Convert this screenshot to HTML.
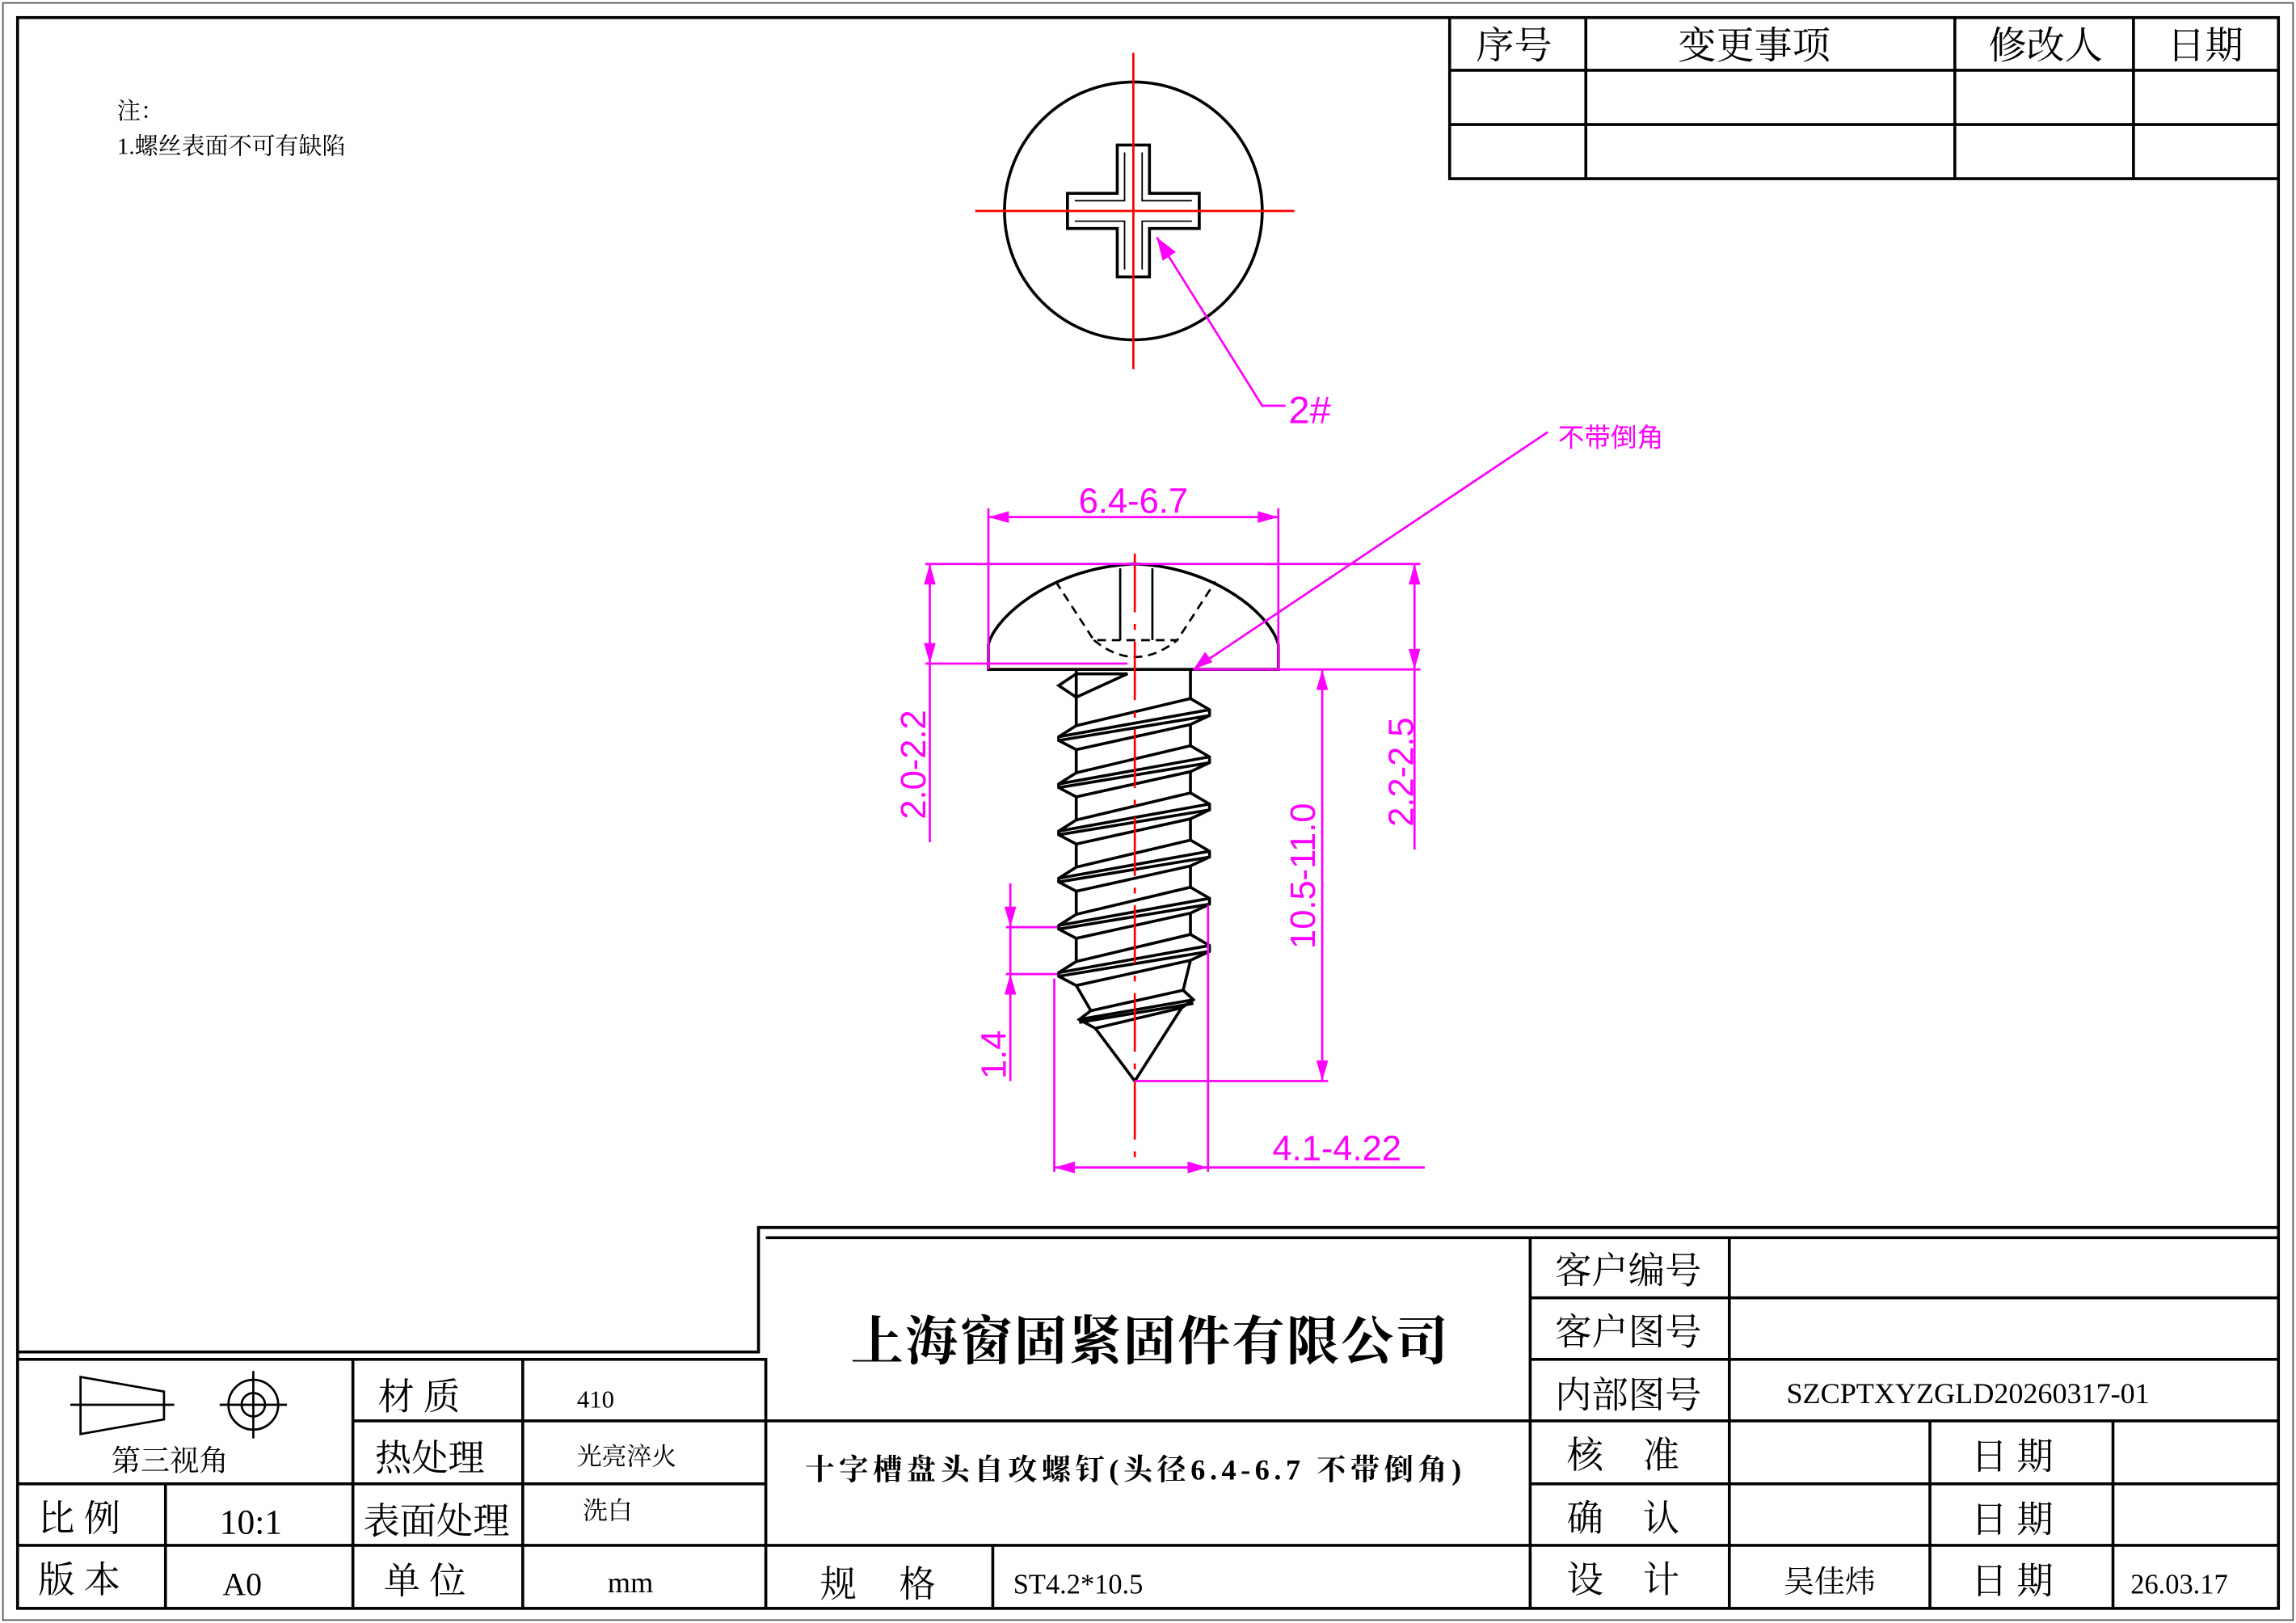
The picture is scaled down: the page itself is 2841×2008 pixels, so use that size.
<!DOCTYPE html>
<html><head><meta charset="utf-8"><style>
html,body{margin:0;padding:0;background:#fff;}
svg{display:block;}
.t{font-family:"Liberation Serif","Noto Serif CJK SC",serif;fill:#000;}
.d{font-family:"Liberation Sans",sans-serif;fill:#f0f;}
</style></head><body>
<svg id="s" width="2841" height="2008" viewBox="0 0 1568 1108" preserveAspectRatio="none" xmlns="http://www.w3.org/2000/svg">
<rect x="0" y="0" width="1568" height="1108" fill="#fff"/>
<rect x="2" y="2" width="1564" height="1104" fill="none" stroke="#555" stroke-width="1"/>
<g stroke="#000" fill="none" stroke-width="2">
<rect x="12" y="12" width="1544" height="1086"/>
<path d="M990 12V122H1556M990 48H1556M990 85H1556M1083 12V122M1335 12V122M1457 12V122"/>
<path d="M12 923H518V838H1556M12 928H523V1098M523 845H1556"/>
<path d="M12 1013H523M12 1055H523M241 970H523M241 928V1098M357 928V1098M113 1013V1098"/>
<path d="M523 970H1556M523 1055H1556M678 1055V1098M1045 845V1098M1181 845V1098M1045 886H1556M1045 928H1556M1045 1013H1556M1318 970V1098M1443 970V1098"/>
</g>
<g stroke="#000" fill="none" stroke-width="1.5">
<path d="M55 940L112 950V969L55 979Z"/><path d="M48 959H119"/>
<circle cx="173" cy="959" r="17"/><circle cx="173" cy="959" r="8"/><path d="M150 959H196M173 936V982"/>
</g>
<g class="t">
<text x="1034" y="40" font-size="26" text-anchor="middle">序号</text>
<text x="1198" y="40" font-size="26" text-anchor="middle">变更事项</text>
<text x="1397" y="40" font-size="26" text-anchor="middle">修改人</text>
<text x="1506" y="40" font-size="26" text-anchor="middle">日期</text>
<text x="80" y="81" font-size="16">注：</text>
<text x="80" y="105" font-size="16">1.螺丝表面不可有缺陷</text>
<text x="116" y="1004" font-size="20" text-anchor="middle">第三视角</text>
<text x="258" y="962" font-size="25">材 质</text>
<text x="394" y="961" font-size="17">410</text>
<text x="256" y="1004" font-size="25">热处理</text>
<text x="394" y="1000" font-size="17">光亮淬火</text>
<text x="26" y="1045" font-size="25">比 例</text>
<text x="150" y="1047" font-size="24">10:1</text>
<text x="248" y="1047" font-size="25">表面处理</text>
<text x="398" y="1037" font-size="17">洗白</text>
<text x="26" y="1087" font-size="25">版 本</text>
<text x="152" y="1089" font-size="22">A0</text>
<text x="262" y="1088" font-size="25">单 位</text>
<text x="415" y="1087" font-size="20">mm</text>
<text x="581" y="928" font-size="36" font-weight="bold" textLength="408">上海窗固紧固件有限公司</text>
<text x="550" y="1010" font-size="20" font-weight="bold" textLength="448">十字槽盘头自攻螺钉(头径6.4-6.7 不带倒角)</text>
<text x="560" y="1090" font-size="25">规</text><text x="614" y="1090" font-size="25">格</text>
<text x="692" y="1088" font-size="19">ST4.2*10.5</text>
<text x="1062" y="876" font-size="25">客户编号</text>
<text x="1062" y="918" font-size="25">客户图号</text>
<text x="1062" y="961" font-size="25">内部图号</text>
<text x="1220" y="958" font-size="20" textLength="248">SZCPTXYZGLD20260317-01</text>
<text x="1070" y="1002" font-size="25">核</text><text x="1122" y="1002" font-size="25">准</text>
<text x="1070" y="1045" font-size="25">确</text><text x="1122" y="1045" font-size="25">认</text>
<text x="1070" y="1087" font-size="25">设</text><text x="1122" y="1087" font-size="25">计</text>
<text x="1346" y="1003" font-size="25">日 期</text>
<text x="1346" y="1046" font-size="25">日 期</text>
<text x="1346" y="1088" font-size="25">日 期</text>
<text x="1218" y="1087" font-size="21">吴佳炜</text>
<text x="1455" y="1088" font-size="19">26.03.17</text>
</g>
<circle cx="774" cy="144" r="88" fill="none" stroke="#000" stroke-width="2"/>
<path d="M763 99H785V132H819V156H785V189H763V156H729V132H763Z" fill="none" stroke="#000" stroke-width="2"/>
<path d="M768 104V137H734M780 104V137H814M768 184V151H734M780 184V151H814" fill="none" stroke="#000" stroke-width="1"/>
<path d="M774 36V252M666 144H884" stroke="#f00" stroke-width="1.5"/>
<path d="M790 162L862 277H878" stroke="#f0f" stroke-width="1.5" fill="none"/>
<path d="M790 162L794 178L803 172Z" fill="#f0f"/>
<text x="880" y="289" class="d" font-size="26">2#</text>
<g stroke="#000" fill="none" stroke-width="2">
<path d="M675 457V440C680 420 720 387 775 385C830 387 868 420 873 440V457Z"/>
<path d="M765 388V437M787 388V437" stroke-width="1.5"/>
<path d="M721 397L747 437H804L830 397M747 437Q775 460 804 437" stroke-dasharray="6 4" stroke-width="1.5"/>
<path d="M735 457V476L770 460H735M735 460L723 468L735 476M813 457V477" stroke-width="2"/>
<g id="th"></g>
</g>
<path d="M775 378V792" stroke="#f00" stroke-width="1.5" stroke-dasharray="40 8 4 8"/>
<g stroke="#f0f" stroke-width="1.5" fill="none">
<path d="M675 347V457M873 347V457M675 353H873"/>
<path d="M632 385H970M632 453H770M815 457H970"/>
<path d="M635 385V575M966 385V580"/>
<path d="M903 457V738M775 738H907"/>
<path d="M690 603V738M687 633H722M687 665H722"/>
<path d="M720 668V800M825 618V800M720 797H973"/>
<path d="M815 457L1057 295"/>
</g>
<g fill="#f0f">
<path d="M675 353l14-4v8zM873 353l-14-4v8z"/>
<path d="M635 385l-4 14h8zM635 453l-4-14h8z"/>
<path d="M966 385l-4 14h8zM966 457l-4-14h8z"/>
<path d="M903 457l-4 14h8zM903 738l-4-14h8z"/>
<path d="M690 633l-4-14h8zM690 665l-4 14h8z"/>
<path d="M720 797l14-4v8zM825 797l-14-4v8z"/>
<path d="M815 457l8-12l5 7z"/>
</g>
<g class="d" font-size="24">
<text x="774" y="350" text-anchor="middle">6.4-6.7</text>
<text transform="translate(632 522) rotate(-90)" text-anchor="middle">2.0-2.2</text>
<text transform="translate(965 527) rotate(-90)" text-anchor="middle">2.2-2.5</text>
<text transform="translate(898 598) rotate(-90)" text-anchor="middle">10.5-11.0</text>
<text transform="translate(687 720) rotate(-90)" text-anchor="middle">1.4</text>
<text x="913" y="792" text-anchor="middle">4.1-4.22</text>
<text x="1064" y="305" font-size="18" font-family="'Noto Sans CJK SC',sans-serif">不带倒角</text>
</g>
</svg>
<script>
var g=document.getElementById('th'),d='';
var prevL=476,prevR=477;
for(var k=0;k<6;k++){var R=484.5+32.2*k,L=R+18.5;
d+='M735 '+prevL+'V'+(L-7.6)+'L723 '+L+'V'+(L+2.5)+'L735 '+(L+8.8);
d+='M813 '+prevR+'V'+(R-7.6)+'L826 '+R+'V'+(R+4)+'L813 '+(R+10.1);
d+='M735 '+(L-7.6)+'L813 '+(R-7.6)+'M723 '+L+'L826 '+R+'M723 '+(L+2.5)+'L826 '+(R+4)+'M735 '+(L+8.8)+'L813 '+(R+10.1);
prevL=L+8.8;prevR=R+10.1;}
d+='M735 '+prevL+'L745 690L737 696L748 702L775 738L807 688L815 682.5L808 676L813 '+prevR;
d+='M745 690L808 676M737 696L815 682.5M737 698L815 685M748 702L807 688';
var p=document.createElementNS('http://www.w3.org/2000/svg','path');p.setAttribute('d',d);g.appendChild(p);
</script>
</body></html>
